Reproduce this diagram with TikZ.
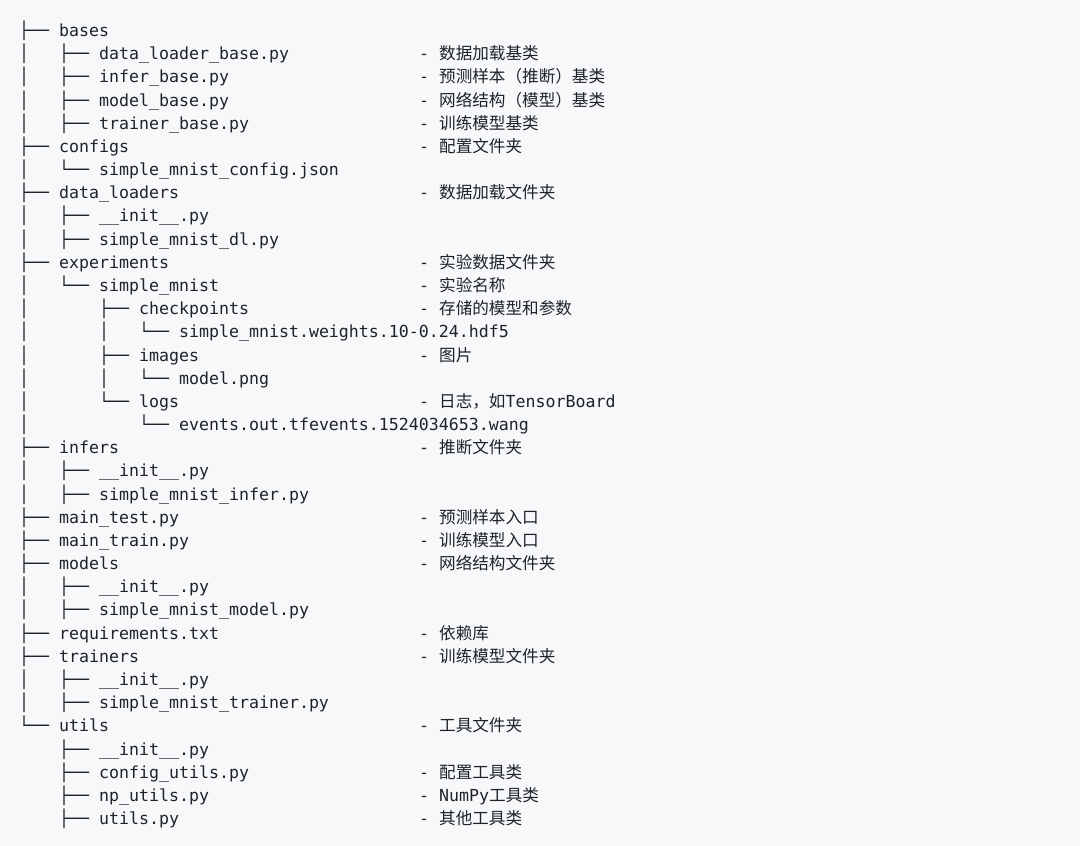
\documentclass[tikz,border=0pt]{standalone}
\usepackage{fontspec}
\setmonofont{DejaVu Sans Mono}
\newfontfamily\cjk{Noto Sans CJK SC}
\definecolor{bgc}{HTML}{F6F8FA}
\definecolor{fgc}{HTML}{1F2328}
\newcommand\treeRow[2]{\node[ln] (t#1) at (19,{809.5-23.18*(#1-1)}) {#2};}
\newcommand\noteRow[2]{\node[ln] (c#1) at (419,{809.5-23.18*(#1-1)}) {-~#2};}
\tikzset{ln/.style={anchor=base west, inner sep=0pt, text=fgc,
  font=\ttfamily\fontsize{16.6}{20}\selectfont}}
\begin{document}
\begin{tikzpicture}[x=1pt,y=1pt]
\fill[bgc] (0,0) rectangle (1080,846);
\useasboundingbox (0,0) rectangle (1080,846);
\treeRow{1}{├──~bases}
\treeRow{2}{│~~~├──~data\_loader\_base.py}
\treeRow{3}{│~~~├──~infer\_base.py}
\treeRow{4}{│~~~├──~model\_base.py}
\treeRow{5}{│~~~├──~trainer\_base.py}
\treeRow{6}{├──~configs}
\treeRow{7}{│~~~└──~simple\_mnist\_config.json}
\treeRow{8}{├──~data\_loaders}
\treeRow{9}{│~~~├──~\_\_init\_\_.py}
\treeRow{10}{│~~~├──~simple\_mnist\_dl.py}
\treeRow{11}{├──~experiments}
\treeRow{12}{│~~~└──~simple\_mnist}
\treeRow{13}{│~~~~~~~├──~checkpoints}
\treeRow{14}{│~~~~~~~│~~~└──~simple\_mnist.weights.10-0.24.hdf5}
\treeRow{15}{│~~~~~~~├──~images}
\treeRow{16}{│~~~~~~~│~~~└──~model.png}
\treeRow{17}{│~~~~~~~└──~logs}
\treeRow{18}{│~~~~~~~~~~~└──~events.out.tfevents.1524034653.wang}
\treeRow{19}{├──~infers}
\treeRow{20}{│~~~├──~\_\_init\_\_.py}
\treeRow{21}{│~~~├──~simple\_mnist\_infer.py}
\treeRow{22}{├──~main\_test.py}
\treeRow{23}{├──~main\_train.py}
\treeRow{24}{├──~models}
\treeRow{25}{│~~~├──~\_\_init\_\_.py}
\treeRow{26}{│~~~├──~simple\_mnist\_model.py}
\treeRow{27}{├──~requirements.txt}
\treeRow{28}{├──~trainers}
\treeRow{29}{│~~~├──~\_\_init\_\_.py}
\treeRow{30}{│~~~├──~simple\_mnist\_trainer.py}
\treeRow{31}{└──~utils}
\treeRow{32}{~~~~├──~\_\_init\_\_.py}
\treeRow{33}{~~~~├──~config\_utils.py}
\treeRow{34}{~~~~├──~np\_utils.py}
\treeRow{35}{~~~~├──~utils.py}
\noteRow{2}{{\cjk 数据加载基类}}
\noteRow{3}{{\cjk 预测样本（推断）基类}}
\noteRow{4}{{\cjk 网络结构（模型）基类}}
\noteRow{5}{{\cjk 训练模型基类}}
\noteRow{6}{{\cjk 配置文件夹}}
\noteRow{8}{{\cjk 数据加载文件夹}}
\noteRow{11}{{\cjk 实验数据文件夹}}
\noteRow{12}{{\cjk 实验名称}}
\noteRow{13}{{\cjk 存储的模型和参数}}
\noteRow{15}{{\cjk 图片}}
\noteRow{17}{{\cjk 日志，如}TensorBoard}
\noteRow{19}{{\cjk 推断文件夹}}
\noteRow{22}{{\cjk 预测样本入口}}
\noteRow{23}{{\cjk 训练模型入口}}
\noteRow{24}{{\cjk 网络结构文件夹}}
\noteRow{27}{{\cjk 依赖库}}
\noteRow{28}{{\cjk 训练模型文件夹}}
\noteRow{31}{{\cjk 工具文件夹}}
\noteRow{33}{{\cjk 配置工具类}}
\noteRow{34}{NumPy{\cjk 工具类}}
\noteRow{35}{{\cjk 其他工具类}}
\end{tikzpicture}
\end{document}
